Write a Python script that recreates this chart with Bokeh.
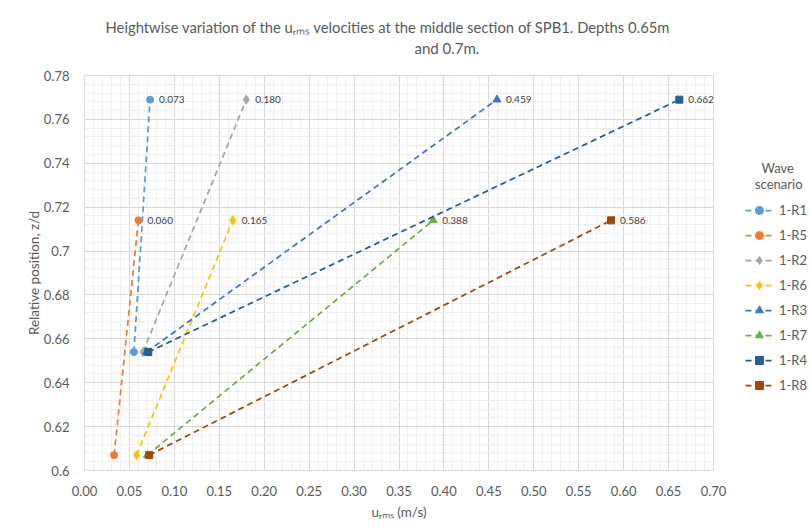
from bokeh.plotting import figure
from bokeh.models import (ColumnDataSource, FixedTicker, Legend, LegendItem,
                          LabelSet, PrintfTickFormatter, Title)
from bokeh.core.properties import value
from bokeh.embed import file_html
from bokeh.resources import INLINE

# ---- data ----
scenarios = ["1-R1", "1-R5", "1-R2", "1-R6", "1-R3", "1-R7", "1-R4", "1-R8"]
u_low = [0.055, 0.033, 0.065, 0.058, 0.069, 0.070, 0.071, 0.072]
z_low = [0.654, 0.607, 0.654, 0.607, 0.654, 0.607, 0.654, 0.607]
u_high = [0.073, 0.060, 0.180, 0.165, 0.459, 0.388, 0.662, 0.586]
z_high = [0.769, 0.714, 0.769, 0.714, 0.769, 0.714, 0.769, 0.714]
colors = ["#5B9BD5", "#ED7D31", "#A5A5A5", "#FFC000",
          "#4472C4", "#70AD47", "#255E91", "#9E480E"]
markers = ["circle", "circle", "diamond", "diamond",
           "triangle", "triangle", "square", "square"]
marker_sizes = [7, 7, 9, 9, 8, 8, 7, 7]

x_ticks = [0.00, 0.05, 0.10, 0.15, 0.20, 0.25, 0.30, 0.35,
           0.40, 0.45, 0.50, 0.55, 0.60, 0.65, 0.70]
y_ticks = [0.60, 0.62, 0.64, 0.66, 0.68, 0.70, 0.72, 0.74, 0.76, 0.78]
y_tick_labels = ["0.6", "0.62", "0.64", "0.66", "0.68", "0.7",
                 "0.72", "0.74", "0.76", "0.78"]

title_line1 = "Heightwise variation of the u\u1d63\u2098\u209b velocities at the middle section of SPB1. Depths 0.65m"
title_line2 = "and 0.7m."
x_label = "u\u1d63\u2098\u209b (m/s)"
y_label = "Relative position, z/d"
legend_title = "\u00a0" * 5 + "Wave\n" + "\u00a0" * 3 + "scenario"

FONT = "Lato"
GREY = "#595959"

p = figure(frame_width=629, frame_height=395,
           x_range=(0, 0.7), y_range=(0.6, 0.78),
           min_border_left=84, min_border_right=97,
           min_border_top=75, min_border_bottom=60,
           output_backend="svg", toolbar_location=None)

p.xaxis.ticker = FixedTicker(ticks=x_ticks,
                             minor_ticks=[round(i * 0.01, 3) for i in range(71)])
p.yaxis.ticker = FixedTicker(ticks=y_ticks,
                             minor_ticks=[round(0.6 + i * 0.004, 4) for i in range(46)])
p.xaxis.formatter = PrintfTickFormatter(format="%.2f")
p.yaxis.major_label_overrides = {t: l for t, l in zip(y_ticks, y_tick_labels)}

for ax in (p.xaxis, p.yaxis):
    ax.axis_line_color = None
    ax.major_tick_line_color = None
    ax.minor_tick_line_color = None
    ax.major_label_text_font = FONT
    ax.major_label_text_font_size = "13px"
    ax.major_label_text_color = GREY
    ax.axis_label_text_font = FONT
    ax.axis_label_text_font_size = "13.5px"
    ax.axis_label_text_font_style = "normal"
    ax.axis_label_text_color = GREY
p.xaxis.major_label_standoff = 9
p.yaxis.major_label_standoff = 9
p.xaxis.axis_label = x_label
p.yaxis.axis_label = y_label
p.xaxis.axis_label_standoff = 5
p.yaxis.axis_label_standoff = -1

for g in (p.xgrid, p.ygrid):
    g.grid_line_color = "#d9d9d9"
    g.minor_grid_line_color = "#eeeeee"
p.outline_line_color = "#d9d9d9"

items = []
for i, name in enumerate(scenarios):
    src = ColumnDataSource(dict(u=[u_low[i], u_high[i]], z=[z_low[i], z_high[i]]))
    ln = p.line("u", "z", source=src, line_color=colors[i], line_width=1.75,
                line_dash="6 4")
    sc = p.scatter("u", "z", source=src, marker=markers[i], size=marker_sizes[i],
                   fill_color=colors[i], line_color=colors[i])
    items.append(LegendItem(label=name, renderers=[ln, sc]))

lab_src = ColumnDataSource(dict(u=u_high, z=z_high,
                                t=["%.3f" % v for v in u_high]))
p.add_layout(LabelSet(x="u", y="z", text="t", source=lab_src, x_offset=9,
                      text_baseline="middle", text_font_size="10px",
                      text_font=value(FONT), text_color="#404040"))

legend = Legend(items=items, location=(32, 75), padding=0, margin=0,
                border_line_color=None, background_fill_alpha=0,
                glyph_width=28, glyph_height=20, label_height=20,
                label_standoff=6, spacing=5,
                label_text_font=FONT, label_text_font_size="13px",
                label_text_color=GREY,
                title=legend_title, title_text_font=FONT,
                title_text_font_size="13px", title_text_color=GREY,
                title_text_font_style="normal", title_standoff=8)
p.add_layout(legend, "right")

# titles: the later-added one sits farther from the frame
p.add_layout(Title(text="\u00a0", standoff=16, text_font_size="1px"), "above")
p.add_layout(Title(text=title_line2, align="left", offset=330, standoff=0,
                   text_font=FONT, text_font_size="15px", text_color=GREY,
                   text_font_style="normal"), "above")
p.add_layout(Title(text=title_line1, align="left", offset=21, standoff=1,
                   text_font=FONT, text_font_size="14.8px", text_color=GREY,
                   text_font_style="normal"), "above")

open("out.html", "w").write(file_html(p, INLINE))
